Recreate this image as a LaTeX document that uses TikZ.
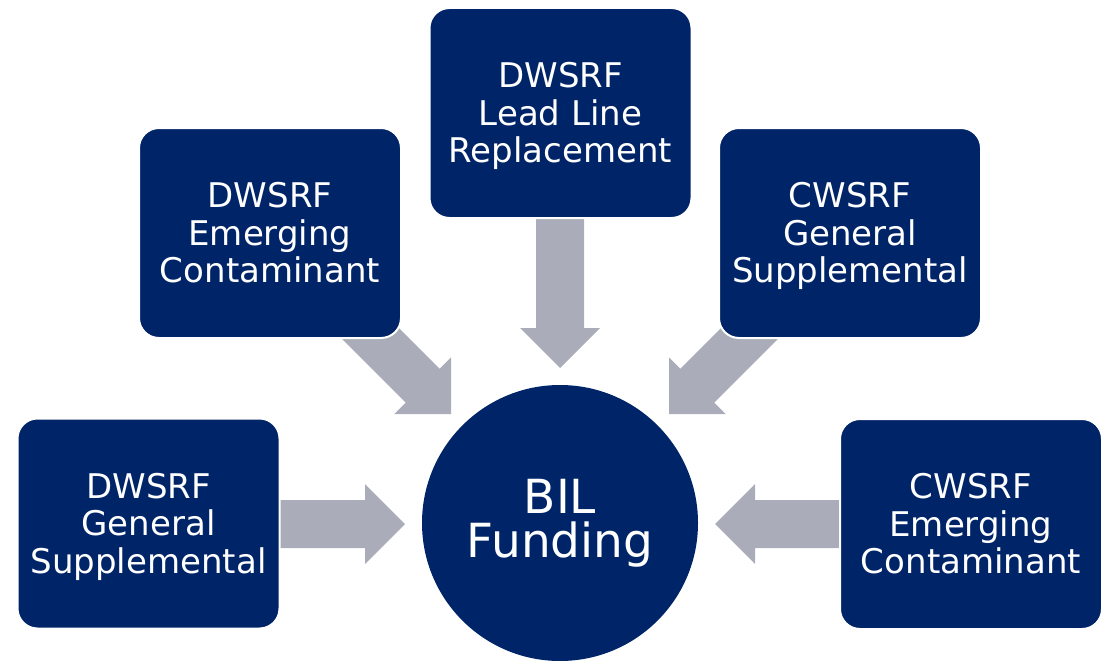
\documentclass[tikz,border=0pt]{standalone}
\usepackage{fontspec}
\setmainfont{DejaVu Sans}
\usetikzlibrary{calc}
\definecolor{navy}{RGB}{0,36,104}
\definecolor{arrowgray}{RGB}{170,172,186}
\newcommand\tstrut{\rule{0pt}{33pt}}
\newcommand\bstrut{\rule[-9pt]{0pt}{9pt}}
\newcommand\blockarrow[2]{%
  \path ($(#2)!40pt!(#1)$) coordinate (hb);
  \fill[arrowgray] ($(#1)!24pt!90:(#2)$) -- ($(hb)!24pt!90:(#2)$) -- ($(hb)!40pt!90:(#2)$) -- (#2)
    -- ($(hb)!40pt!-90:(#2)$) -- ($(hb)!24pt!-90:(#2)$) -- ($(#1)!24pt!-90:(#2)$) -- cycle;}
\tikzset{
  fundbox/.style={fill=navy, draw=white, line width=2pt, rounded corners=20pt,
    minimum width=262pt, minimum height=210pt, inner sep=0pt, align=center,
    text=white, font=\fontsize{34}{37.5}\selectfont},
  hub/.style={circle, fill=navy, minimum size=276pt, inner sep=0pt, align=center,
    text=white, font=\fontsize{47}{44}\selectfont}
}
\begin{document}
\begin{tikzpicture}[x=1pt,y=-1pt]
\useasboundingbox (0,0) rectangle (1109,661);
% hub
\node[hub] (bil) at (560,523) {\rule{0pt}{35.5pt}BIL\\Funding\rule[-11pt]{0pt}{11pt}};
% arrow end points
\coordinate (t1) at (560,215);   \coordinate (h1) at (560,368);
\coordinate (t2) at (358,321);   \coordinate (h2) at (451,414);
\coordinate (t3) at (762,321);   \coordinate (h3) at (669,414);
\coordinate (t4) at (276,524);   \coordinate (h4) at (405,524);
\coordinate (t5) at (844,524);   \coordinate (h5) at (715,524);
\blockarrow{t1}{h1}
\blockarrow{t2}{h2}
\blockarrow{t3}{h3}
\blockarrow{t4}{h4}
\blockarrow{t5}{h5}
% boxes
\node[fundbox] (lead) at (560.5,113) {\tstrut DWSRF\\Lead Line\\Replacement\bstrut};
\node[fundbox] (dwec) at (270,233) {\tstrut DWSRF\\Emerging\\Contaminant\bstrut};
\node[fundbox] (cwgs) at (850,233) {\tstrut CWSRF\\General\\Supplemental\bstrut};
\node[fundbox] (dwgs) at (148.5,523.5) {\tstrut DWSRF\\General\\Supplemental\bstrut};
\node[fundbox] (cwec) at (971,524) {\tstrut CWSRF\\Emerging\\Contaminant\bstrut};
\end{tikzpicture}
\end{document}
